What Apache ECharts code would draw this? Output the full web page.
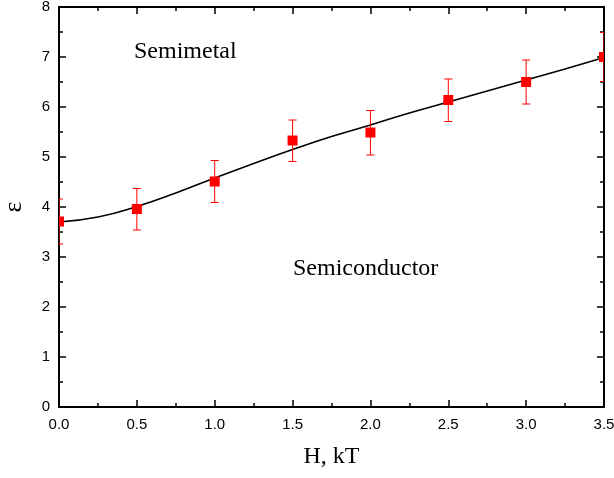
<!DOCTYPE html>
<html>
<head>
<meta charset="utf-8">
<script src="https://cdn.jsdelivr.net/npm/echarts@6/dist/echarts.min.js"></script>
<style>html,body{margin:0;padding:0;background:#fff;}#chart{width:614px;height:478px;}</style>
</head>
<body>
<div id="chart"></div>
<script>
// Data
var H = [0.0, 0.5, 1.0, 1.5, 2.0, 2.5, 3.0, 3.5];
var eps = [3.71, 3.96, 4.51, 5.33, 5.49, 6.14, 6.50, 7.00];
var errLow = [3.26, 3.54, 4.09, 4.91, 5.04, 5.71, 6.06, 6.51];
var errHigh = [4.16, 4.37, 4.93, 5.74, 5.93, 6.56, 6.94, 7.49];
var fitH = [0, 0.25, 0.5, 0.75, 1.0, 1.25, 1.5, 1.75, 2.0, 2.25, 2.5, 2.75, 3.0, 3.25, 3.5];
var fitEps = [3.70, 3.80, 4.01, 4.28, 4.58, 4.87, 5.15, 5.41, 5.64, 5.88, 6.10, 6.32, 6.54, 6.76, 6.99];
var xTitle = 'H, kT';
var yTitle = 'ε';
var labels = ['Semimetal', 'Semiconductor'];

var chart = echarts.init(document.getElementById('chart'), null, {renderer: 'canvas'});

var pts = H.map(function (h, i) { return [h, eps[i], errLow[i], errHigh[i]]; });
var fit = fitH.map(function (h, i) { return [h, fitEps[i]]; });

var axisFont = {color: '#000', fontSize: 15, fontFamily: 'Liberation Sans'};
var lineStyle = {color: '#000', width: 2};

function baseAxis(extra) {
  return Object.assign({
    type: 'value',
    axisLine: {show: true, onZero: false, lineStyle: lineStyle},
    axisTick: {show: true, inside: true, length: 7, lineStyle: {color: '#000', width: 1.5}},
    minorTick: {show: true, splitNumber: 2, length: 4, lineStyle: {color: '#000', width: 1.5}},
    splitLine: {show: false},
    minorSplitLine: {show: false}
  }, extra);
}

var option = {
  animation: false,
  backgroundColor: '#fff',
  grid: {left: 59, right: 10, top: 7, bottom: 71, containLabel: false, outerBoundsMode: 'none'},
  xAxis: [
    baseAxis({
      position: 'bottom', min: 0, max: 3.5, interval: 0.5,
      axisLabel: Object.assign({margin: 10, formatter: function (v) { return v.toFixed(1); }}, axisFont),
      name: xTitle, nameLocation: 'middle', nameGap: 38,
      nameTextStyle: {fontFamily: 'Liberation Serif', fontSize: 24, color: '#000'}
    }),
    baseAxis({
      position: 'top', min: 0, max: 3.5, interval: 0.5,
      axisLabel: {show: false}
    })
  ],
  yAxis: [
    baseAxis({
      position: 'left', min: 0, max: 8, interval: 1,
      axisLabel: Object.assign({margin: 9}, axisFont),
      name: yTitle, nameLocation: 'middle', nameGap: 32, nameRotate: 90,
      nameTextStyle: {fontFamily: 'Liberation Serif', fontSize: 26, color: '#000'}
    }),
    baseAxis({
      position: 'right', min: 0, max: 8, interval: 1,
      axisLabel: {show: false}
    })
  ],
  series: [
    {
      type: 'line',
      data: fit,
      smooth: true,
      showSymbol: false,
      symbol: 'none',
      lineStyle: {color: '#000', width: 1.6},
      z: 3
    },
    {
      type: 'custom',
      data: pts,
      clip: true,
      renderItem: function (params, api) {
        var x = api.value(0);
        var c = api.coord([x, api.value(1)]);
        var lo = api.coord([x, api.value(2)]);
        var hi = api.coord([x, api.value(3)]);
        var cap = 4, s = 10;
        var st = {stroke: '#ff0000', lineWidth: 1};
        return {
          type: 'group',
          children: [
            {type: 'line', shape: {x1: lo[0], y1: lo[1], x2: hi[0], y2: hi[1]}, style: st},
            {type: 'line', shape: {x1: lo[0] - cap, y1: lo[1], x2: lo[0] + cap, y2: lo[1]}, style: st},
            {type: 'line', shape: {x1: hi[0] - cap, y1: hi[1], x2: hi[0] + cap, y2: hi[1]}, style: st},
            {type: 'rect', shape: {x: c[0] - s / 2, y: c[1] - s / 2, width: s, height: s}, style: {fill: '#ff0000'}}
          ]
        };
      },
      z: 4
    }
  ],
  graphic: [
    {type: 'text', x: 134, y: 52, style: {text: labels[0], font: '24px "Liberation Serif"', fill: '#000', verticalAlign: 'middle', align: 'left'}},
    {type: 'text', x: 293, y: 269, style: {text: labels[1], font: '24px "Liberation Serif"', fill: '#000', verticalAlign: 'middle', align: 'left'}}
  ]
};
chart.setOption(option);
</script>
</body>
</html>
